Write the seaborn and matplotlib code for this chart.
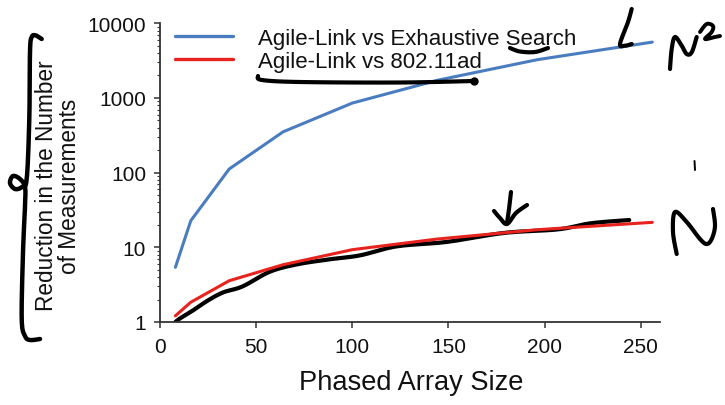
import matplotlib
matplotlib.use("Agg")
import matplotlib.pyplot as plt
import numpy as np
import pandas as pd
import seaborn as sns
from matplotlib.lines import Line2D
from matplotlib.ticker import FixedLocator, LogLocator, NullFormatter, FixedFormatter

# ---------------- data ----------------
array_size = [8, 16, 36, 64, 100, 144, 196, 256]
vs_exhaustive = [5.4, 22.7, 112, 352, 855, 1720, 3250, 5600]
vs_80211ad = [1.21, 1.84, 3.57, 5.85, 9.3, 12.9, 17.2, 21.6]
series_names = ["Agile-Link vs Exhaustive Search", "Agile-Link vs 802.11ad"]
series_colors = ["#4a7dc0", "#e8231e"]
x_ticks = [0, 50, 100, 150, 200, 250]
y_ticks = [1, 10, 100, 1000, 10000]
y_tick_labels = ["1", "10", "100", "1000", "10000"]
x_label = "Phased Array Size"
y_label = "Reduction in the Number\nof Measurements"

# hand-drawn ink trace following the lower curve
ink_x = [8, 10, 17, 25, 33, 43, 57, 71, 88, 104, 123, 149, 179, 207, 224, 244]
ink_y = [1.0, 1.1, 1.42, 1.95, 2.5, 3.0, 4.7, 5.9, 6.9, 7.8, 10.3, 11.8, 15.6, 17.4, 21.0, 23.2]

W, H = 725, 406

df = pd.DataFrame({
    "size": array_size * 2,
    "value": vs_exhaustive + vs_80211ad,
    "series": [series_names[0]] * len(array_size) + [series_names[1]] * len(array_size),
})

sns.set_theme(style="ticks")
plt.rcParams["font.family"] = ["Liberation Sans", "DejaVu Sans"]

fig = plt.figure(figsize=(W / 100, H / 100), dpi=100)
fig.patch.set_facecolor("white")
ax = fig.add_axes([160 / W, 1 - 323 / H, 500 / W, (323 - 24.3) / H])

sns.lineplot(data=df, x="size", y="value", hue="series", hue_order=series_names,
             palette=series_colors, linewidth=2.2, ax=ax, legend=True)


def smooth(xs, ys, n=12):
    """Catmull-Rom smoothing of a stroke."""
    P = np.column_stack([xs, ys]).astype(float)
    if len(P) < 3:
        return P[:, 0], P[:, 1]
    P = np.vstack([P[0], P, P[-1]])
    out = []
    for i in range(1, len(P) - 2):
        p0, p1, p2, p3 = P[i - 1], P[i], P[i + 1], P[i + 2]
        for t in np.linspace(0, 1, n, endpoint=False):
            t2, t3 = t * t, t * t * t
            out.append(0.5 * ((2 * p1) + (-p0 + p2) * t + (2 * p0 - 5 * p1 + 4 * p2 - p3) * t2
                              + (-p0 + 3 * p1 - 3 * p2 + p3) * t3))
    out.append(P[-2])
    out = np.array(out)
    return out[:, 0], out[:, 1]


# hand-drawn trace along the red curve (smoothed in log space)
sx, sy = smooth(ink_x, np.log10(ink_y))
ax.plot(sx, 10 ** sy, color="black", lw=3.0, solid_capstyle="round",
        solid_joinstyle="round", zorder=1)

ax.set_yscale("log")
ax.set_xlim(0, 260)
ax.set_ylim(1, 10000)
ax.xaxis.set_major_locator(FixedLocator(x_ticks))
ax.yaxis.set_major_locator(FixedLocator(y_ticks))
ax.yaxis.set_major_formatter(FixedFormatter(y_tick_labels))
ax.yaxis.set_minor_locator(LogLocator(base=10, subs=np.arange(2, 10), numticks=20))
ax.yaxis.set_minor_formatter(NullFormatter())

for side in ["top", "right"]:
    ax.spines[side].set_visible(False)
for side in ["left", "bottom"]:
    ax.spines[side].set_color("#333333")
    ax.spines[side].set_linewidth(1.3)
ax.tick_params(axis="both", which="major", direction="out", length=4, width=1.1,
               color="#333333", labelsize=15, labelcolor="#111111")
ax.tick_params(axis="x", pad=7)
ax.tick_params(axis="y", pad=6)
ax.tick_params(axis="y", which="minor", direction="out", length=2, width=0.8, color="#333333")

ax.set_xlabel("")
ax.set_ylabel("")
fig.text(411.5 / W, 1 - 383 / H, x_label, ha="center", va="center", fontsize=19.6, color="#111111")
fig.text(58 / W, 1 - 186 / H, y_label, ha="center", va="center", rotation=90,
         multialignment="center", fontsize=16.3, color="#111111", linespacing=1.0)

leg = ax.legend(loc="upper left", bbox_to_anchor=(175 / W, 1 - 29 / H),
                bbox_transform=fig.transFigure, frameon=False, fontsize=16,
                handlelength=2.6, handletextpad=1.15, labelspacing=0.08,
                borderpad=0, borderaxespad=0)
for t in leg.get_texts():
    t.set_color("#111111")
for h in leg.get_lines():
    h.set_linewidth(2.4)


def ink(points, lw=3.2, n=10):
    px = [p[0] for p in points]
    py = [p[1] for p in points]
    xs, ys = smooth(px, py, n)
    fig.add_artist(Line2D(xs / W, 1 - ys / H, transform=fig.transFigure, color="black", lw=lw,
                          solid_capstyle="round", solid_joinstyle="round"))


# left brace
ink([(41.7, 40), (36, 36.5), (31.7, 38), (30, 53), (29.3, 120), (26.7, 180), (22, 188),
     (15, 190), (10, 184), (13, 177), (20, 180), (25, 188), (25, 207), (23, 253),
     (21.7, 320), (25, 337), (30, 341), (40, 340)], lw=3.2)
# underline beneath legend
ink([(258, 77), (262, 81), (300, 83), (400, 83.5), (474, 82)], lw=3.0)
fig.add_artist(Line2D([474 / W], [1 - 82 / H], transform=fig.transFigure, marker="o",
                      markersize=5, color="black"))
# underline of "Search"
ink([(510, 49), (520, 52.5), (535, 53), (548, 49)], lw=3.0)
# stroke near end of blue line
ink([(631.7, 10), (628, 23), (620, 45), (625, 46.7), (631.7, 45)], lw=3.0)
# N^2
ink([(670, 70), (671.7, 50), (675, 38), (681.7, 46.7), (686.7, 55), (691.7, 53.3),
     (696.7, 38)], lw=3.0)
ink([(700, 33), (706.7, 25), (713, 27), (711.7, 33), (705, 40), (715, 38), (720, 37)], lw=2.8)
# N
ink([(676.7, 255), (673, 233), (675, 213), (686.7, 223), (700, 240), (706.7, 245),
     (711.7, 240), (715, 227), (713, 210)], lw=3.0)
# arrow
ink([(511, 193), (509, 210), (507, 224)], lw=3.0)
ink([(494, 212), (500, 219), (507, 225), (516, 214), (527, 206)], lw=3.0)
# small mark
ink([(694.5, 162), (695, 171)], lw=1.4)

fig.savefig("out.png", dpi=100, facecolor="white")
